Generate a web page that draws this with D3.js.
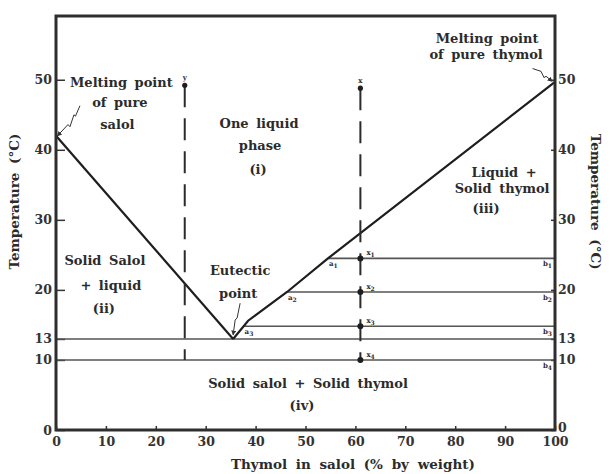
<!DOCTYPE html>
<html>
<head>
<meta charset="utf-8">
<script src="https://cdn.jsdelivr.net/npm/d3@7"></script>
<style>
  body { margin: 0; background: #fff; }
  svg text { font-family: "DejaVu Serif", serif; fill: #2b2b2b; }
  .lbl { font-weight: bold; font-size: 13px; word-spacing: 3px; }
  .title { font-weight: bold; font-size: 13.5px; word-spacing: 4px; }
  .axis text { font-size: 12.5px; font-weight: bold; fill: #333; }
  .axis line { stroke: #333; stroke-width: 1.5; }
  .axis path { display: none; }
  .sub { font-size: 7px; font-weight: bold; }
</style>
</head>
<body>
<div id="chart"></div>
<script>
// ---- data ----
const xTicks = [0, 10, 20, 30, 40, 50, 60, 70, 80, 90, 100];
const yTicks = [0, 10, 13, 20, 30, 40, 50];

// liquidus curves [thymol %, temperature]
const salolLiquidus = [[0, 42], [35.5, 13]];
const thymolLiquidus = [[35.5, 13], [38.5, 15.6], [46.3, 19.7], [54.5, 24.5], [100, 49.7]];

// full-width isotherms (eutectic temperature and 10 degrees)
const isotherms = [13, 10];

// tie lines: temperature, liquidus composition (a point)
const tieNames = ["1", "2", "3"];
const tieTemps = [24.5, 19.7, 14.8];
const tieStart = [54.5, 46.3, 37.6];

// cooling paths
const pathY = {x: 25.8, top: 49.2, bottom: 10};
const pathX = {x: 61, top: 48.8, bottom: 10};
const pathXPoints = [24.5, 19.7, 14.8, 10];

// text, one entry per line: [text, thymol %, temperature]
const labelLines = [
  ["Melting point", 13.1, 49.0],
  ["of pure", 12.8, 46.1],
  ["salol", 12.3, 43.0],
  ["One liquid", 40.7, 43.1],
  ["phase", 40.9, 39.9],
  ["(i)", 40.5, 36.6],
  ["Melting point", 86.4, 55.3],
  ["of pure thymol", 86.2, 52.9],
  ["Liquid +", 89.8, 36.1],
  ["Solid thymol", 89.4, 33.8],
  ["(iii)", 86.2, 31.0],
  ["Solid Salol", 9.8, 23.6],
  ["+ liquid", 11, 20.0],
  ["(ii)", 9.6, 16.7],
  ["Eutectic", 36.9, 22.1],
  ["point", 36.5, 18.9],
  ["Solid salol + Solid thymol", 50.5, 6.0],
  ["(iv)", 49.3, 2.9]
];

// little zig-zag pointers
const pointers = [
  [[0.3, 42], [2.4, 43.6], [2.8, 43.3], [3.6, 45], [3.9, 44.8], [4.8, 46.3]],
  [[99.4, 49.8], [98.2, 50.5], [97.8, 50.3], [97.2, 51.2], [95.5, 51.6]],
  [[35.5, 13.6], [35.9, 15.7], [36.3, 16], [36.5, 16.7], [36.9, 18.1]]
];

const margin = {top: 16, right: 55, bottom: 44, left: 56};
const width = 610 - margin.left - margin.right;
const height = 474 - margin.top - margin.bottom;

const svg = d3.select("#chart").append("svg")
    .attr("width", 610)
    .attr("height", 474)
    .append("g")
    .attr("transform", "translate(" + margin.left + "," + margin.top + ")");

const x = d3.scaleLinear().domain([0, 100]).range([0, width]);
const y = d3.scaleLinear().domain([0, 59.1]).range([height, 0]);

const line = d3.line().x(d => x(d[0])).y(d => y(d[1]));

// axes
svg.append("g")
    .attr("class", "axis")
    .call(d3.axisLeft(y).tickValues(yTicks).tickSizeInner(-9).tickSizeOuter(0).tickPadding(4));

svg.append("g")
    .attr("class", "axis")
    .attr("transform", "translate(" + width + ",0)")
    .call(d3.axisRight(y).tickValues(yTicks).tickSizeInner(-4).tickSizeOuter(0).tickPadding(3))
    .selectAll("text")
    .attr("dy", d => d === 0 ? "0.1em" : "0.32em");

svg.append("g")
    .attr("class", "axis")
    .attr("transform", "translate(0," + height + ")")
    .call(d3.axisBottom(x).tickValues(xTicks).tickSizeInner(-4).tickSizeOuter(0).tickPadding(7));

// isotherms and tie lines
svg.selectAll(".iso")
    .data(isotherms).enter()
    .append("line")
    .attr("class", "iso")
    .attr("x1", x(0)).attr("x2", x(100))
    .attr("y1", d => y(d)).attr("y2", d => y(d))
    .attr("stroke", "#555").attr("stroke-width", 1.6);

svg.selectAll(".tie")
    .data(tieTemps).enter()
    .append("line")
    .attr("class", "tie")
    .attr("x1", (d, i) => x(tieStart[i])).attr("x2", x(100))
    .attr("y1", d => y(d)).attr("y2", d => y(d))
    .attr("stroke", "#555").attr("stroke-width", 1.6);

// liquidus
[salolLiquidus, thymolLiquidus].forEach(function (d) {
    svg.append("path")
        .datum(d)
        .attr("d", line)
        .attr("fill", "none")
        .attr("stroke", "#1e1e1e")
        .attr("stroke-width", 2.2);
});

// cooling paths
[pathY, pathX].forEach(function (p) {
    svg.append("line")
        .attr("x1", x(p.x)).attr("x2", x(p.x))
        .attr("y1", y(p.top)).attr("y2", y(p.bottom))
        .attr("stroke", "#2b2b2b")
        .attr("stroke-width", 2)
        .attr("stroke-dasharray", "22,11");
    svg.append("circle")
        .attr("cx", x(p.x)).attr("cy", y(p.top))
        .attr("r", 2.6).attr("fill", "#1e1e1e");
});

svg.append("text").attr("class", "sub")
    .attr("x", x(pathY.x)).attr("y", y(pathY.top) - 5)
    .attr("text-anchor", "middle").text("y");
svg.append("text").attr("class", "sub")
    .attr("x", x(pathX.x)).attr("y", y(pathX.top) - 5)
    .attr("text-anchor", "middle").text("x");

svg.selectAll(".xdot")
    .data(pathXPoints).enter()
    .append("circle")
    .attr("class", "xdot")
    .attr("cx", x(pathX.x)).attr("cy", d => y(d))
    .attr("r", 3).attr("fill", "#1e1e1e");

// small point names
function subLabel(name, idx, px, py, anchor) {
    let t = svg.append("text").attr("class", "sub")
        .attr("x", px).attr("y", py)
        .attr("text-anchor", anchor || "start");
    t.append("tspan").text(name);
    t.append("tspan").attr("dy", 2).attr("font-size", 6).text(idx);
}

pathXPoints.forEach(function (d, i) {
    subLabel("x", String(i + 1), x(pathX.x) + 6, y(d) - 3);
});
tieTemps.forEach(function (d, i) {
    subLabel("a", tieNames[i], x(tieStart[i]) + 1, y(d) + 8);
});
tieTemps.concat([10]).forEach(function (d, i) {
    subLabel("b", String(i + 1), x(100) - 3, y(d) + 8, "end");
});

// pointers
svg.append("defs").append("marker")
    .attr("id", "head")
    .attr("viewBox", "0 0 6 6")
    .attr("refX", 5).attr("refY", 3)
    .attr("markerWidth", 5).attr("markerHeight", 5)
    .attr("orient", "auto-start-reverse")
    .append("path").attr("d", "M0,0L6,3L0,6Z").attr("fill", "#333");

svg.selectAll(".pointer")
    .data(pointers).enter()
    .append("path")
    .attr("class", "pointer")
    .attr("d", line)
    .attr("fill", "none")
    .attr("stroke", "#333")
    .attr("stroke-width", 1)
    .attr("marker-start", "url(#head)");

// region and point labels
svg.selectAll(".lbl")
    .data(labelLines).enter()
    .append("text")
    .attr("class", "lbl")
    .attr("x", d => x(d[1]))
    .attr("y", d => y(d[2]))
    .attr("text-anchor", "middle")
    .text(d => d[0]);

// frame
svg.append("rect")
    .attr("width", width).attr("height", height)
    .attr("fill", "none")
    .attr("stroke", "#2e2e2e")
    .attr("stroke-width", 3);

// axis titles
svg.append("text")
    .attr("class", "title")
    .attr("x", x(59.5))
    .attr("y", height + 39)
    .attr("text-anchor", "middle")
    .text("Thymol in salol (% by weight)");

svg.append("text")
    .attr("class", "title")
    .attr("transform", "translate(" + (-37) + "," + (y(32.6)) + ") rotate(-90)")
    .attr("text-anchor", "middle")
    .text("Temperature (°C)");

svg.append("text")
    .attr("class", "title")
    .attr("transform", "translate(" + (width + 36) + "," + (y(32.6)) + ") rotate(90)")
    .attr("text-anchor", "middle")
    .text("Temperature (°C)");
</script>
</body>
</html>
